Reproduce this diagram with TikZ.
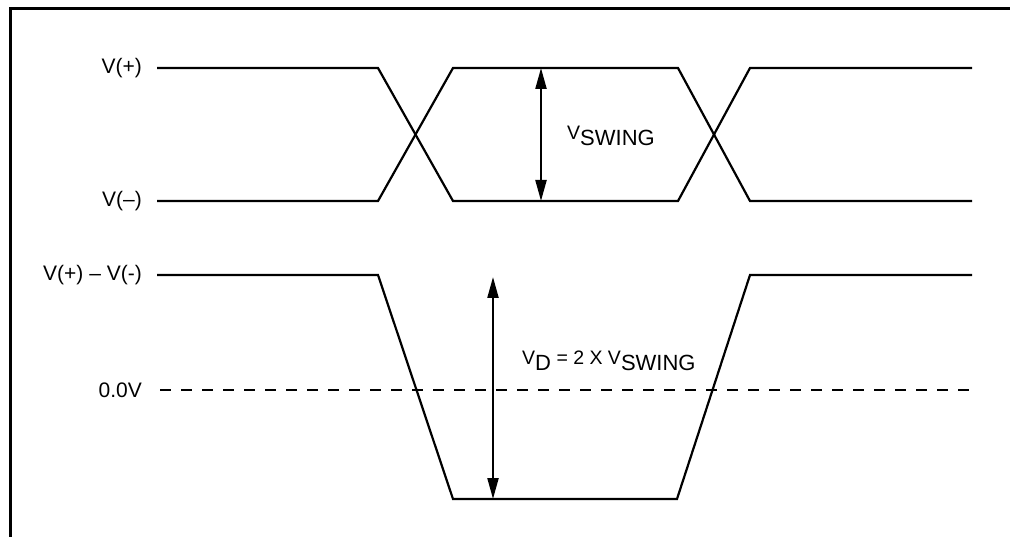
\documentclass[tikz,border=0pt]{standalone}
\usepackage{fontspec}
\setmainfont{Liberation Sans}
\usetikzlibrary{arrows.meta}
\tikzset{
  wave/.style={line width=2.2pt, line join=miter},
  frame/.style={line width=3pt},
  lvl/.style={anchor=east, font=\fontsize{21}{21}\selectfont, inner sep=0pt},
  dim/.style={line width=2.2pt, {Triangle[length=21pt,width=11pt]}-{Triangle[length=21pt,width=11pt]}, shorten <=-1pt, shorten >=-1pt},
  lbl/.style={anchor=west, font=\fontsize{19.5}{19.5}\selectfont, inner sep=0pt}
}
\newcommand{\subx}[1]{\raisebox{-6.5pt}{\fontsize{22}{22}\selectfont #1}}
\begin{document}
\begin{tikzpicture}[x=1pt,y=-1pt]
\useasboundingbox (0,0) rectangle (1010,537);
% frame
\coordinate (fTL) at (10.5,9);
\coordinate (fTR) at (1012,9);
\coordinate (fBL) at (10.5,540);
\draw[frame] (fTR) -- (fTL) -- (fBL);
% level labels
\node[lvl] (lp) at (142,68) {V(+)};
\node[lvl] (lm) at (142,201) {V(--)};
\node[lvl] (ld) at (142,275) {V(+) -- V(-)};
\node[lvl] (l0) at (142,390) {0.0V};
% top waveforms
\coordinate (a0) at (157,68);
\coordinate (a1) at (378,68);
\coordinate (a2) at (453,201);
\coordinate (a3) at (678,201);
\coordinate (a4) at (750,68);
\coordinate (a5) at (972,68);
\coordinate (b0) at (157,201);
\coordinate (b1) at (378,201);
\coordinate (b2) at (453,68);
\coordinate (b3) at (678,68);
\coordinate (b4) at (750,201);
\coordinate (b5) at (972,201);
\draw[wave] (a0) -- (a1) -- (a2) -- (a3) -- (a4) -- (a5);
\draw[wave] (b0) -- (b1) -- (b2) -- (b3) -- (b4) -- (b5);
% swing arrow
\coordinate (s1) at (541,69);
\coordinate (s2) at (541,200);
\draw[dim] (s1) -- (s2);
\node[lbl] (vsw) at (567,136) {V\subx{SWING}};
% differential waveform
\coordinate (d0) at (157,275);
\coordinate (d1) at (378,275);
\coordinate (d2) at (453,499);
\coordinate (d3) at (677,499);
\coordinate (d4) at (750,275);
\coordinate (d5) at (972,275);
\draw[wave] (d0) -- (d1) -- (d2) -- (d3) -- (d4) -- (d5);
% zero line
\coordinate (z0) at (160,390);
\coordinate (z1) at (972,390);
\draw[line width=2.2pt, dash pattern=on 11pt off 10pt] (z0) -- (z1);
% VD arrow
\coordinate (v1) at (493,278);
\coordinate (v2) at (493,498);
\draw[dim] (v1) -- (v2);
\node[lbl] (vd) at (522,361) {V\subx{D} = 2 X V\subx{SWING}};
\end{tikzpicture}
\end{document}
